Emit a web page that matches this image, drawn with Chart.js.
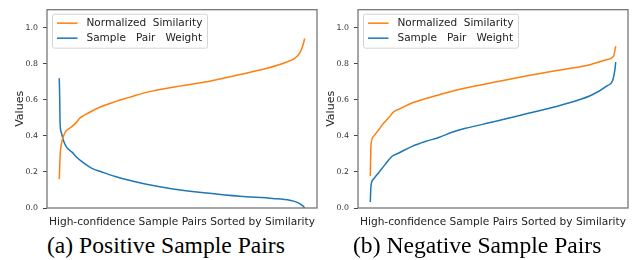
<!DOCTYPE html>
<html>
<head>
<meta charset="utf-8">
<script src="https://cdn.jsdelivr.net/npm/chart.js@4.4.0/dist/chart.umd.min.js"></script>
<style>
  html, body { margin: 0; padding: 0; background: #fff; }
  #wrap { position: relative; width: 639px; height: 260px; overflow: hidden; }
  .plot { position: absolute; top: 0; width: 320px; height: 232px; }
  .caption {
    position: absolute; top: 234px; white-space: nowrap; color: #000;
    font-family: "Liberation Serif", "Times New Roman", serif; font-size: 23.6px; line-height: 1;
  }
</style>
</head>
<body>
<div id="wrap">
  <div class="plot" style="left:0"><canvas id="posChart" width="320" height="232"></canvas></div>
  <div class="plot" style="left:311px"><canvas id="negChart" width="320" height="232"></canvas></div>
  <div class="caption" style="left:47px">(a) Positive Sample Pairs</div>
  <div class="caption" style="left:353px">(b) Negative Sample Pairs</div>
</div>
<script>
const xTitle = 'High-confidence Sample Pairs Sorted by Similarity';
const yTitle = 'Values';
const simLabel = 'Normalized  Similarity';
const weightLabel = 'Sample   Pair   Weight';
const yTicks = [0, 0.2, 0.4, 0.6, 0.8, 1.0];

// x = position along the sorted pairs, in % of all pairs
const posSimX = [0, 0.4, 1.1, 2.4, 4.5, 6.5, 8.5, 11.8, 16.7, 22.8, 28.9, 35, 46.3, 60.2, 73.6, 84.6, 92.7, 95.9, 98, 99.2, 100];
const posSimY = [0.16, 0.30, 0.37, 0.42, 0.445, 0.468, 0.50, 0.527, 0.56, 0.59, 0.615, 0.64, 0.67, 0.70, 0.74, 0.775, 0.81, 0.83, 0.86, 0.90, 0.94];
const posWeightX = [0, 0.2, 0.3, 0.8, 1.8, 3.1, 5.2, 7.2, 9.9, 13.3, 17.4, 22.8, 28.1, 35, 46.3, 60.2, 73.6, 87, 93.9, 97.2, 99.2, 100];
const posWeightY = [0.72, 0.59, 0.48, 0.42, 0.37, 0.335, 0.31, 0.28, 0.25, 0.22, 0.20, 0.175, 0.155, 0.133, 0.106, 0.083, 0.065, 0.053, 0.043, 0.03, 0.012, 0.0];

const negSimX = [0, 0.3, 1.3, 3.4, 5.4, 7.5, 9.5, 12.2, 17, 22.4, 27.9, 33.3, 38.8, 50.3, 64, 77.6, 89.1, 96.6, 99.1, 100];
const negSimY = [0.178, 0.35, 0.397, 0.433, 0.47, 0.50, 0.533, 0.551, 0.582, 0.606, 0.627, 0.648, 0.666, 0.697, 0.733, 0.766, 0.793, 0.824, 0.842, 0.897];
const negWeightX = [0, 0.3, 1.3, 3.4, 6.1, 8.9, 11.6, 17, 22.4, 27.9, 33.3, 38.8, 50.3, 64, 77.6, 89.8, 96.6, 98.7, 99.7, 100];
const negWeightY = [0.033, 0.124, 0.16, 0.196, 0.242, 0.287, 0.305, 0.342, 0.369, 0.391, 0.42, 0.442, 0.478, 0.524, 0.57, 0.624, 0.679, 0.706, 0.77, 0.81];

const orange = '#ff7f0e';
const blue = '#1f77b4';
const font = 'DejaVu Sans';

const pts = (xs, ys) => xs.map((x, i) => ({ x: x, y: ys[i] }));

// axes box drawn like matplotlib spines
const framePlugin = {
  id: 'frame',
  afterDatasetsDraw(chart) {
    const { left, top, right, bottom } = chart.chartArea;
    const ctx = chart.ctx;
    ctx.save();
    ctx.strokeStyle = '#777';
    ctx.lineWidth = 1.3;
    ctx.strokeRect(left, top, right - left, bottom - top);
    ctx.restore();
  }
};

// legend box in the upper left corner of the axes
const boxLegend = {
  id: 'boxLegend',
  afterDraw(chart) {
    const ctx = chart.ctx;
    const x0 = chart.chartArea.left + 5.5;
    const y0 = chart.chartArea.top + 4.5;
    ctx.save();
    ctx.fillStyle = 'rgba(255,255,255,0.8)';
    ctx.strokeStyle = '#d5d5d5';
    ctx.lineWidth = 1;
    ctx.beginPath();
    ctx.roundRect(x0, y0, 155, 34, 2);
    ctx.fill();
    ctx.stroke();
    ctx.font = '10.5px "' + font + '"';
    ctx.textBaseline = 'middle';
    chart.data.datasets.forEach((ds, i) => {
      const y = y0 + 9 + i * 15;
      ctx.strokeStyle = ds.borderColor;
      ctx.lineWidth = 1.5;
      ctx.beginPath();
      ctx.moveTo(x0 + 4.5, y);
      ctx.lineTo(x0 + 25, y);
      ctx.stroke();
      ctx.fillStyle = '#222';
      ctx.fillText(ds.label, x0 + 34, y);
    });
    ctx.restore();
  }
};

function makeChart(id, simPts, weightPts) {
  return new Chart(document.getElementById(id), {
    type: 'line',
    data: {
      datasets: [
        { label: simLabel, data: simPts, borderColor: orange, borderWidth: 1.5, pointRadius: 0, fill: false, cubicInterpolationMode: 'monotone' },
        { label: weightLabel, data: weightPts, borderColor: blue, borderWidth: 1.5, pointRadius: 0, fill: false, cubicInterpolationMode: 'monotone' }
      ]
    },
    options: {
      responsive: false,
      animation: false,
      devicePixelRatio: 1,
      layout: { padding: { top: 7, right: 3, left: 0, bottom: 0 } },
      plugins: { legend: { display: false }, tooltip: { enabled: false } },
      scales: {
        x: {
          type: 'linear', min: -5, max: 105,
          afterFit: s => { s.height = 24; },
          border: { display: false },
          grid: { display: false },
          ticks: { display: false },
          title: { display: true, text: xTitle, color: '#222', font: { family: font, size: 10.6 }, padding: { top: 0, bottom: 3 } }
        },
        y: {
          min: 0, max: 1.1,
          afterBuildTicks: s => { s.ticks = yTicks.map(v => ({ value: v })); },
          afterFit: s => { s.width = 47; },
          border: { display: false },
          grid: { drawOnChartArea: false, drawTicks: true, tickLength: 4, tickColor: '#444', lineWidth: 1 },
          ticks: { padding: 5, color: '#333', font: { family: font, size: 7.8 }, callback: v => v.toFixed(1) },
          title: { display: true, text: yTitle, color: '#222', font: { family: font, size: 11 }, padding: { top: 14, bottom: 0 } }
        }
      }
    },
    plugins: [framePlugin, boxLegend]
  });
}

makeChart('posChart', pts(posSimX, posSimY), pts(posWeightX, posWeightY));
makeChart('negChart', pts(negSimX, negSimY), pts(negWeightX, negWeightY));
</script>
</body>
</html>
